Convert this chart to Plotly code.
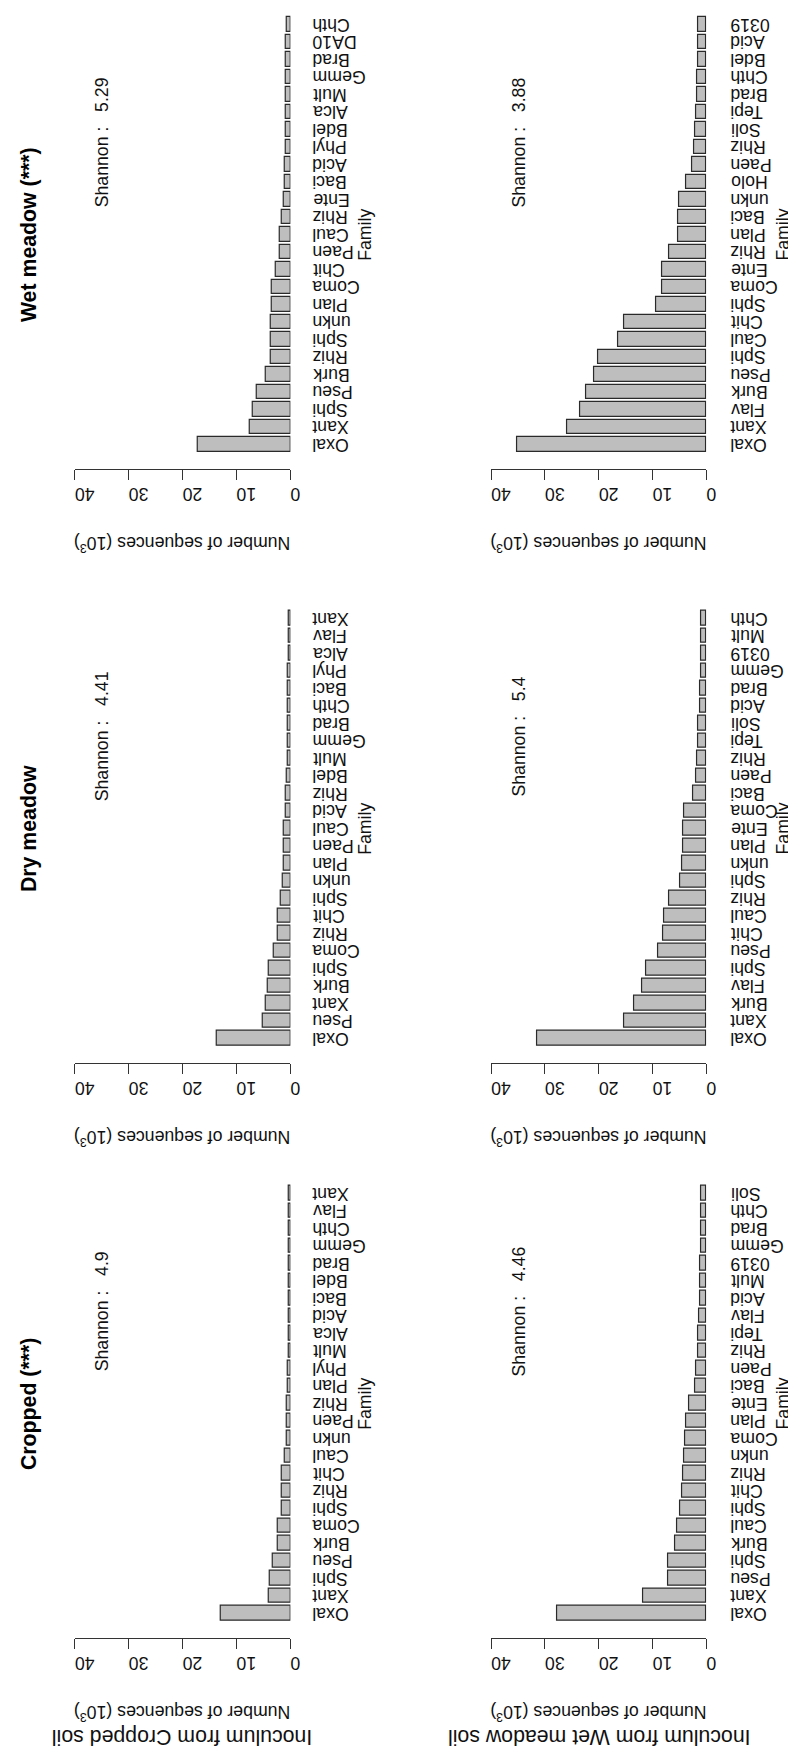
import plotly.graph_objects as go

# ---------------- data ----------------
titles = ["Wet meadow (***)", "Dry meadow", "Cropped (***)"]
row_labels = ["Inoculum from Cropped soil", "Inoculum from Wet meadow soil"]
tick_values = [0, 10, 20, 30, 40]

# Inoculum from Cropped soil
wet_crop_fam = ["Oxal", "Xant", "Sphi", "Pseu", "Burk", "Rhiz", "Sphi", "unkn", "Plan", "Coma", "Chit", "Paen", "Caul",
                "Rhiz", "Ente", "Baci", "Acid", "Phyl", "Bdel", "Alca", "Mult", "Gemm", "Brad", "DA10", "Chth"]
wet_crop_val = [17.2, 7.5, 7.0, 6.3, 4.5, 3.7, 3.7, 3.6, 3.4, 3.4, 2.75, 2.0, 1.9,
                1.6, 1.3, 1.1, 1.1, 0.9, 0.9, 0.9, 0.9, 0.8, 0.8, 0.8, 0.75]
dry_crop_fam = ["Oxal", "Pseu", "Xant", "Burk", "Sphi", "Coma", "Rhiz", "Chit", "Sphi", "unkn", "Plan", "Paen", "Caul",
                "Acid", "Rhiz", "Bdel", "Mult", "Gemm", "Brad", "Chth", "Baci", "Phyl", "Alca", "Flav", "Xant"]
dry_crop_val = [13.6, 5.2, 4.5, 4.1, 4.0, 3.0, 2.4, 2.3, 1.8, 1.35, 1.3, 1.3, 1.15,
                0.85, 0.85, 0.65, 0.55, 0.5, 0.5, 0.45, 0.4, 0.4, 0.35, 0.3, 0.3]
crop_crop_fam = ["Oxal", "Xant", "Sphi", "Pseu", "Burk", "Coma", "Sphi", "Rhiz", "Chit", "Caul", "unkn", "Paen", "Rhiz",
                 "Plan", "Phyl", "Mult", "Alca", "Acid", "Baci", "Bdel", "Brad", "Gemm", "Chth", "Flav", "Xant"]
crop_crop_val = [12.9, 4.0, 3.9, 3.3, 2.4, 2.3, 1.65, 1.6, 1.5, 1.0, 0.75, 0.7, 0.65,
                 0.55, 0.4, 0.35, 0.35, 0.3, 0.3, 0.3, 0.25, 0.25, 0.2, 0.2, 0.2]

# Inoculum from Wet meadow soil
wet_wet_fam = ["Oxal", "Xant", "Flav", "Burk", "Pseu", "Sphi", "Caul", "Chit", "Sphi", "Coma", "Ente", "Rhiz", "Plan",
               "Baci", "unkn", "Holo", "Paen", "Rhiz", "Soli", "Tepi", "Brad", "Chth", "Bdel", "Acid", "0319"]
wet_wet_val = [35.2, 25.8, 23.5, 22.3, 20.9, 20.1, 16.4, 15.2, 9.35, 8.3, 8.15, 7.0, 5.2,
               5.2, 5.0, 3.7, 2.65, 2.3, 2.15, 1.9, 1.8, 1.75, 1.55, 1.5, 1.5]
dry_wet_fam = ["Oxal", "Xant", "Burk", "Flav", "Sphi", "Pseu", "Chit", "Caul", "Rhiz", "Sphi", "unkn", "Plan", "Ente",
               "Coma", "Baci", "Paen", "Rhiz", "Tepi", "Soli", "Acid", "Brad", "Gemm", "0319", "Mult", "Chth"]
dry_wet_val = [31.4, 15.2, 13.4, 11.9, 11.25, 9.0, 8.1, 7.8, 6.95, 4.9, 4.6, 4.4, 4.3,
               4.2, 2.55, 1.85, 1.65, 1.55, 1.5, 1.15, 1.15, 1.05, 1.05, 1.0, 1.0]
crop_wet_fam = ["Oxal", "Xant", "Pseu", "Sphi", "Burk", "Caul", "Sphi", "Chit", "Rhiz", "unkn", "Coma", "Plan", "Ente",
                "Baci", "Paen", "Rhiz", "Tepi", "Flav", "Acid", "Mult", "0319", "Gemm", "Brad", "Chth", "Soli"]
crop_wet_val = [27.8, 11.7, 7.1, 7.1, 5.75, 5.4, 4.8, 4.5, 4.35, 4.2, 4.0, 3.7, 3.2,
                2.1, 1.95, 1.5, 1.45, 1.35, 1.15, 1.15, 1.1, 1.05, 1.0, 0.9, 0.9]

shannon = {(0, 0): "5.29", (1, 0): "4.41", (2, 0): "4.9",
           (0, 1): "3.88", (1, 1): "5.4", (2, 1): "4.46"}

panel_data = {(0, 0): (wet_crop_fam, wet_crop_val), (1, 0): (dry_crop_fam, dry_crop_val),
              (2, 0): (crop_crop_fam, crop_crop_val), (0, 1): (wet_wet_fam, wet_wet_val),
              (1, 1): (dry_wet_fam, dry_wet_val), (2, 1): (crop_wet_fam, crop_wet_val)}

# ---------------- layout geometry (pixels) ----------------
W, H = 796, 1751
FONT = "Liberation Sans, Arial, Helvetica, sans-serif"
BASE = 17.7
NB = "\u00a0"
col_x = [(67.7, 286.0), (489.3, 707.3)]
label_x = [306.7, 730.0]
family_x = [362.0, 785.0]
row_axis = [461.0, 1055.0, 1630.0]
unit = 14.58
cat_lo = -0.992
cat_hi = 31.192


def px_x(p):
    return p / W


def px_y(p):
    return 1 - p / H


fig = go.Figure()
annotations = []
layout_axes = {}

n = 0
for r in range(3):
    for c in range(2):
        n += 1
        fam, val = panel_data[(r, c)]
        pos = [0.7 + 1.2 * i for i in range(len(fam))]
        xa = "x" if n == 1 else f"x{n}"
        ya = "y" if n == 1 else f"y{n}"
        xk = "xaxis" if n == 1 else f"xaxis{n}"
        yk = "yaxis" if n == 1 else f"yaxis{n}"

        axis_px = row_axis[r]
        top_px = axis_px - (cat_hi - cat_lo) * unit
        hi = cat_hi
        if top_px < 0:
            top_px = 0
            hi = cat_lo + axis_px / unit

        fig.add_trace(go.Bar(
            x=val, y=pos, orientation="h", width=1.0,
            marker=dict(color="#bebebe", line=dict(color="#2a2a2a", width=1.2)),
            xaxis=xa, yaxis=ya, showlegend=False, hoverinfo="skip"))

        layout_axes[xk] = dict(
            domain=[px_x(col_x[c][0]), px_x(col_x[c][1])], anchor=ya,
            range=[40, 0], tickvals=tick_values, ticktext=[str(t) for t in tick_values],
            ticks="outside", ticklen=10, tickwidth=1, tickcolor="#333",
            showline=True, linecolor="#333", linewidth=1,
            showgrid=False, zeroline=False, tickangle=180, ticklabelstandoff=4,
            tickfont=dict(family=FONT, size=BASE, color="#111"))
        layout_axes[yk] = dict(
            domain=[px_y(axis_px), px_y(top_px)], anchor=xa,
            range=[cat_lo, hi], visible=False, showgrid=False, zeroline=False)

        # family labels
        for p, f in zip(pos, fam):
            annotations.append(dict(
                text=f, x=px_x(label_x[c]), xref="paper", y=p, yref=ya,
                xanchor="left", yanchor="middle", textangle=180, showarrow=False,
                font=dict(family=FONT, size=BASE, color="#111")))
        # Shannon
        annotations.append(dict(
            text=f"Shannon :{NB}{NB}{NB}{shannon[(r, c)]}", x=35, xref=xa, y=21.4, yref=ya,
            textangle=-90, showarrow=False, xanchor="center", yanchor="middle",
            font=dict(family=FONT, size=BASE, color="#111")))
        # Family axis title
        annotations.append(dict(
            text="Family", x=px_x(family_x[c]), xref="paper", y=15.1, yref=ya,
            textangle=-90, showarrow=False, xanchor="center", yanchor="middle",
            font=dict(family=FONT, size=BASE, color="#111")))
        # value axis title
        annotations.append(dict(
            text="Number of sequences (10<sup>3</sup>)", x=20, xref=xa,
            y=px_y(axis_px + 75), yref="paper", textangle=180, showarrow=False,
            xanchor="center", yanchor="middle",
            font=dict(family=FONT, size=BASE, color="#111")))
        # column (panel) titles, drawn once on the left column
        if c == 0:
            annotations.append(dict(
                text=f"<b>{titles[r]}</b>", x=px_x(22), xref="paper", y=15.1, yref=ya,
                textangle=-90, showarrow=False, xanchor="center", yanchor="middle",
                font=dict(family=FONT, size=21.3, color="#000")))
        # row labels at the bottom
        if r == 2:
            annotations.append(dict(
                text=row_labels[c], x=20, xref=xa, y=px_y(1729), yref="paper",
                textangle=180, showarrow=False, xanchor="center", yanchor="middle",
                font=dict(family=FONT, size=21.3, color="#111")))

fig.update_layout(
    width=W, height=H, margin=dict(l=0, r=0, t=0, b=0),
    paper_bgcolor="white", plot_bgcolor="white",
    annotations=annotations, bargap=0, **layout_axes)

fig.write_html("out.html")
